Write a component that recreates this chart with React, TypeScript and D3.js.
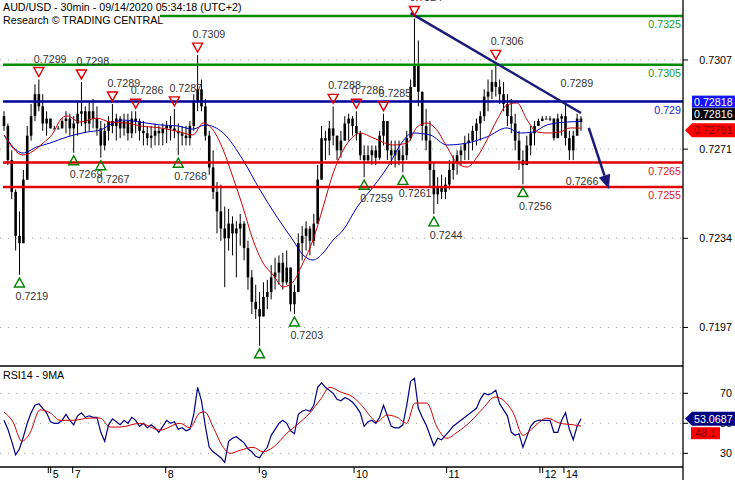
import React from 'react';
import * as d3 from 'd3';

// ---------- data (prices in pips: 7285 = 0.7285) ----------
const firstOpen = 7284;
const highs = [
  7286, 7281, 7270, 7254, 7245, 7262, 7280, 7289, 7297, 7299,
  7293, 7286, 7280, 7280, 7280, 7283, 7286, 7285, 7284, 7290,
  7298, 7288, 7290, 7291, 7288, 7282, 7281, 7284, 7289, 7285,
  7284, 7285, 7285, 7286, 7286, 7283, 7282, 7280, 7280, 7281,
  7280, 7281, 7282, 7284, 7287, 7281, 7280, 7280, 7282, 7293,
  7309, 7299, 7291, 7278, 7270, 7257, 7256, 7247, 7246, 7243,
  7241, 7244, 7241, 7233, 7221, 7215, 7212, 7216, 7217, 7223,
  7226, 7227, 7228, 7229, 7221, 7215, 7236, 7239, 7241, 7239,
  7244, 7264, 7280, 7278, 7282, 7288, 7276, 7278, 7284, 7285,
  7284, 7286, 7278, 7272, 7272, 7272, 7272, 7278, 7285, 7281,
  7274, 7274, 7274, 7272, 7278, 7299, 7324, 7315, 7292, 7287,
  7282, 7265, 7259, 7260, 7259, 7266, 7268, 7270, 7272, 7276,
  7277, 7280, 7283, 7286, 7295, 7299, 7303, 7306, 7299, 7298,
  7293, 7291, 7285, 7278, 7270, 7276, 7280, 7282, 7283, 7284,
  7284, 7284, 7279, 7285, 7285, 7289, 7278, 7278, 7285, 7284,
];
const lows = [
  7278, 7264, 7250, 7229, 7219, 7237, 7260, 7274, 7282, 7286,
  7278, 7276, 7279, 7279, 7279, 7281, 7277, 7276, 7269, 7276,
  7280, 7277, 7278, 7279, 7276, 7267, 7270, 7274, 7277, 7274,
  7275, 7276, 7274, 7275, 7277, 7274, 7272, 7272, 7271, 7272,
  7272, 7272, 7273, 7274, 7275, 7268, 7272, 7272, 7272, 7278,
  7286, 7286, 7274, 7260, 7250, 7236, 7233, 7214, 7229, 7227,
  7218, 7231, 7225, 7213, 7203, 7201, 7190, 7202, 7205, 7209,
  7213, 7215, 7213, 7215, 7204, 7203, 7220, 7225, 7229, 7227,
  7231, 7241, 7260, 7266, 7268, 7272, 7266, 7267, 7274, 7274,
  7276, 7274, 7266, 7259, 7265, 7264, 7264, 7266, 7272, 7266,
  7264, 7263, 7264, 7261, 7266, 7274, 7296, 7288, 7274, 7270,
  7255, 7244, 7248, 7250, 7250, 7254, 7258, 7260, 7264, 7266,
  7266, 7270, 7272, 7274, 7282, 7286, 7291, 7292, 7289, 7286,
  7280, 7277, 7270, 7262, 7256, 7266, 7268, 7272, 7280, 7283,
  7283, 7282, 7274, 7275, 7276, 7272, 7266, 7266, 7277, 7278,
];
const closes = [
  7280, 7266, 7253, 7235, 7232, 7258, 7276, 7284, 7293, 7288,
  7281, 7283, 7279, 7279, 7279, 7282, 7283, 7279, 7281, 7285,
  7286, 7281, 7286, 7283, 7279, 7272, 7278, 7282, 7280, 7283,
  7279, 7282, 7277, 7283, 7282, 7278, 7277, 7275, 7276, 7278,
  7277, 7279, 7280, 7279, 7278, 7277, 7276, 7275, 7280, 7290,
  7295, 7288, 7276, 7263, 7253, 7245, 7238, 7234, 7240, 7236,
  7238, 7240, 7230, 7218, 7208, 7205, 7202, 7210, 7212, 7218,
  7220, 7224, 7216, 7222, 7207, 7212, 7232, 7235, 7238, 7233,
  7240, 7258, 7275, 7274, 7279, 7276, 7270, 7274, 7281, 7283,
  7280, 7277, 7268, 7266, 7268, 7270, 7267, 7276, 7282, 7270,
  7268, 7270, 7266, 7268, 7275, 7296, 7305, 7294, 7280, 7274,
  7262, 7252, 7255, 7253, 7256, 7262, 7265, 7268, 7270, 7273,
  7274, 7278, 7281, 7284, 7292, 7294, 7298, 7296, 7293, 7289,
  7284, 7281, 7274, 7266, 7264, 7272, 7277, 7280, 7282, 7283,
  7283, 7283, 7275, 7283, 7284, 7275, 7270, 7276, 7283, 7281.6,
];

// moving averages on price: [bar index, pips]
const maRed: [number, number][] = [
  [0, 7276.3], [4.9, 7268.1], [10.1, 7273.0], [12.7, 7277.1], [14.5, 7282.4], [16.3, 7284.1],
  [19.6, 7281.6], [24, 7283.2], [27.4, 7281.6], [31.8, 7281.2], [35.1, 7280.0], [40.3, 7279.2],
  [45.5, 7277.5], [48.8, 7276.3], [51.4, 7281.2], [54, 7278.3], [56.6, 7270.2], [59.1, 7259.1],
  [61.7, 7246.8], [64.3, 7233.3], [66.9, 7223.9], [69.5, 7219.0], [72.1, 7214.1], [74.6, 7216.1],
  [77.2, 7223.9], [79.8, 7233.3], [82.4, 7246.8], [85, 7260.7], [87.6, 7270.2], [90.1, 7275.5],
  [92, 7277.1], [95.3, 7275.1], [100.5, 7272.2], [104.1, 7273.0], [106.7, 7279.6], [109.2, 7281.2],
  [111.3, 7279.2], [114.4, 7271.4], [117, 7264.8], [119.6, 7263.2], [122.2, 7267.3], [124.7, 7274.2],
  [127.3, 7282.4], [129.9, 7288.6], [132.5, 7289.4], [135.1, 7282.4], [137.7, 7277.5], [140.2, 7277.1],
  [143.6, 7277.5], [146.2, 7279.2], [149, 7279.1],
];
const maBlue: [number, number][] = [
  [0, 7276.3], [4.9, 7268.9], [8.5, 7271.4], [11.9, 7273.0], [16.3, 7275.5], [21.4, 7277.5],
  [24.8, 7278.3], [28.2, 7281.2], [30.7, 7282.4], [35.1, 7281.6], [40.3, 7280.4], [44.7, 7280.0],
  [48.8, 7278.7], [51.9, 7280.4], [56.6, 7277.1], [61.7, 7266.1], [66.1, 7253.8], [70.5, 7242.7],
  [74.6, 7233.3], [77.2, 7227.2], [79.8, 7225.1], [82.4, 7228.0], [85, 7233.3], [87.6, 7237.4],
  [91.2, 7246.8], [95.3, 7255.0], [99.7, 7264.8], [102.3, 7272.2], [105.6, 7277.1], [110, 7276.3],
  [114.4, 7272.2], [119.6, 7273.0], [124.7, 7275.5], [129.9, 7279.2], [133.3, 7277.1], [136.6, 7277.5],
  [140.2, 7280.4], [145.4, 7281.6], [149, 7281.8],
];

// RSI(14), one value per bar
const rsi14 = [
  52, 46, 38, 29, 33, 41, 50, 57, 62, 63,
  60, 57, 51, 50, 50, 52, 56, 52, 49, 55,
  57, 54, 55, 54, 54, 44, 38, 49, 53, 51,
  49, 52, 50, 54, 52, 48, 50, 47, 49, 47,
  44, 48, 52, 50, 51, 46, 47, 45, 46, 56,
  74, 65, 48, 34, 31, 29, 27, 24, 38, 40,
  41, 39, 37, 33, 31, 28, 27, 31, 34, 42,
  46, 50, 52, 50, 45, 43, 56, 58, 59, 58,
  62, 74, 77, 74, 72, 70, 66, 65, 67, 66,
  64, 61, 57, 48, 51, 52, 50, 54, 62, 55,
  48, 47, 47, 49, 62, 78, 80, 60, 54, 49,
  42, 35, 40, 39, 42, 45, 48, 50, 52, 54,
  56, 58, 60, 66, 70, 69, 70, 72, 63, 59,
  55, 44, 42, 43, 34, 41, 48, 51, 52, 52,
  52, 52, 44, 44, 52, 57, 46, 39, 48, 53.0687,
];
// 9-period MA of RSI: [bar index, value]
const rsiMa: [number, number][] = [
  [0, 57.5], [2.3, 51], [4.6, 38], [6.7, 43.5], [9.3, 59], [11.9, 57], [14.5, 52], [17.8, 52],
  [22.2, 53.5], [24.8, 53.5], [27.4, 47.5], [30, 47.5], [35.1, 50], [40.3, 45.5], [45.5, 50],
  [48, 47], [50.6, 57], [51.9, 57.5], [54, 47.5], [56.6, 34], [58.4, 30], [61, 32], [64.3, 34],
  [66.9, 31], [69.5, 34], [73.1, 43.5], [75.7, 49], [79, 57], [81.6, 65.5], [84.2, 74], [86.8, 71],
  [90.1, 67.5], [92.7, 61], [94.5, 55], [96.3, 51], [98.9, 55.5], [101.5, 54], [104, 50],
  [106.1, 63.5], [109.2, 63.5], [111.8, 47.5], [114.4, 40], [117, 44], [120.4, 51], [123.7, 60],
  [126.8, 67.5], [128.9, 65.5], [131.5, 57], [134, 42], [136.6, 47], [140.2, 53.5], [143.6, 50],
  [147, 49], [149, 48.1],
];

// axis
const dayTicks = [11.44, 12.06, 17.74, 41.76, 65.93, 90.4, 114.3, 138.4, 139.1, 144.6];
const dayLabels = ['', '5', '7', '8', '9', '10', '11', '', '12', '14'];
const priceTicks = [0.7307, 0.72705, 0.7234, 0.71975];
const priceTickLabels = ['0.7307', '0.7271', '0.7234', '0.7197'];
const rsiTicks = [70, 50, 30];
const rsiTickLabels = ['70', '50', '30'];

// key levels
const resistances = [0.7325, 0.7305];
const resistanceLabels = ['0.7325', '0.7305'];
const pivots = [0.729];
const pivotLabels = ['0.729'];
const supports = [0.7265, 0.7255];
const supportLabels = ['0.7265', '0.7255'];

// swing markers: [bar index, price]
const highMarks: [number, number][] = [
  [9, 0.7299], [20, 0.7298], [28, 0.7289], [34, 0.7286], [44, 0.7287], [50, 0.7309],
  [85, 0.7288], [91, 0.7286], [98, 0.7285], [106, 0.7324], [127, 0.7306],
];
const lowMarks: [number, number][] = [
  [4, 0.7219], [18, 0.7269], [25, 0.7267], [45, 0.7268], [66, 0.719], [75, 0.7203],
  [93, 0.7259], [103, 0.7261], [111, 0.7244], [134, 0.7256],
];
const pendingHighs: [number, number][] = [[145, 0.7289]];
const pendingLows: [number, number][] = [[146.1, 0.7266]];

const trendLine: [number, number][] = [[105, 0.73262], [149, 0.72853]];
const forecast: [number, number][] = [[151, 0.72792], [156.2, 0.72542]];

const lastBlue = 0.72818;
const lastClose = 0.72816;
const lastRed = 0.72791;
const lastRsi = 53.0687;
const lastRsiMa = 48.1;

const FONT = "'Liberation Sans', Arial, sans-serif";
const RIGHT = 683;
const MAIN_BOTTOM = 366;

export default function App() {
  const xS = d3.scaleLinear().domain([0, 149]).range([4, 581]);
  const yP = d3.scaleLinear().domain([0.7325, 0.7255]).range([16, 187]);
  const yR = d3.scaleLinear().domain([70, 30]).range([393.3, 453.3]);

  const bars = closes.map((c, i) => ({
    i,
    o: (i === 0 ? firstOpen : closes[i - 1]) / 1e4,
    h: highs[i] / 1e4,
    l: lows[i] / 1e4,
    c: c / 1e4,
  }));

  const maLine = d3.line<[number, number]>()
    .x(d => xS(d[0])).y(d => yP(d[1] / 1e4)).curve(d3.curveMonotoneX);
  const rsiLine = d3.line<number>().x((_, i) => xS(i)).y(d => yR(d));
  const rsiMaLine = d3.line<[number, number]>()
    .x(d => xS(d[0])).y(d => yR(d[1])).curve(d3.curveMonotoneX);

  const labelColor = '#333';
  const fs = 10.7;

  const levelLine = (v: number, label: string, stroke: string, textColor: string, key: string) => (
    <g key={key}>
      <line x1={3} x2={RIGHT} y1={yP(v)} y2={yP(v)} stroke={stroke} strokeWidth={2.5} />
      <text x={RIGHT - 2} y={yP(v) + 12} textAnchor="end" fill={textColor}>{label}</text>
    </g>
  );

  // forecast arrow geometry
  const ax0 = xS(forecast[0][0]), ay0 = yP(forecast[0][1]);
  const ax1 = xS(forecast[1][0]), ay1 = yP(forecast[1][1]);
  const ang = Math.atan2(ay1 - ay0, ax1 - ax0);
  const headLen = 14, headW = 6;
  const bx = ax1 - headLen * Math.cos(ang), by = ay1 - headLen * Math.sin(ang);
  const head = [
    [ax1, ay1],
    [bx + headW * Math.sin(ang), by - headW * Math.cos(ang)],
    [bx - headW * Math.sin(ang), by + headW * Math.cos(ang)],
  ];

  // price tags stacking
  const redC = yP(lastRed) + 2;
  const blackC = redC - 16;
  const blueC = blackC - 12.5;
  const rsiC = yR(lastRsi);
  const rsiMaTop = rsiC + 8.5;

  const arrowTag = (cy: number) =>
    `M685,${cy} L692,${cy - 7} L735,${cy - 7} L735,${cy + 7} L692,${cy + 7} Z`;

  return (
    <div style={{ position: 'absolute', left: 0, top: 0 }}>
      <svg width={735} height={480} style={{ display: 'block' }} fontFamily={FONT} fontSize={fs}>
        <defs>
          <clipPath id="mainClip"><rect x={0} y={0} width={RIGHT} height={MAIN_BOTTOM} /></clipPath>
          <clipPath id="rsiClip"><rect x={0} y={366} width={RIGHT} height={101} /></clipPath>
        </defs>
        <rect x={0} y={0} width={735} height={480} fill="#fff" />

        {/* main panel */}
        <g clipPath="url(#mainClip)">
          {priceTicks.map((t, k) => (
            <line key={k} x1={0} x2={RIGHT} y1={yP(t)} y2={yP(t)} stroke="#a0a0a0" strokeWidth={1} strokeDasharray="1,7" />
          ))}

          {bars.map(b => {
            const x = xS(b.i);
            const top = yP(Math.max(b.o, b.c));
            const bot = yP(Math.min(b.o, b.c));
            return (
              <g key={b.i}>
                <line x1={x} x2={x} y1={yP(Math.max(b.h, b.o, b.c))} y2={yP(Math.min(b.l, b.o, b.c))} stroke="#000" strokeWidth={1} />
                <rect x={x - 1.3} y={top} width={2.6} height={Math.max(1, bot - top)} fill="#000" />
              </g>
            );
          })}

          <path d={maLine(maBlue) || ''} fill="none" stroke="#0000c0" strokeWidth={1} />
          <path d={maLine(maRed) || ''} fill="none" stroke="#cc0000" strokeWidth={1} />

          {resistances.map((v, k) => levelLine(v, resistanceLabels[k], '#008a00', '#1a9a1a', 'r' + k))}
          {pivots.map((v, k) => levelLine(v, pivotLabels[k], '#000099', '#2222cc', 'p' + k))}
          {supports.map((v, k) => levelLine(v, supportLabels[k], '#e00000', '#e02020', 's' + k))}

          <line x1={xS(trendLine[0][0])} y1={yP(trendLine[0][1])} x2={xS(trendLine[1][0])} y2={yP(trendLine[1][1])}
            stroke="#1a1a7a" strokeWidth={2.5} />
          <line x1={ax0} y1={ay0} x2={bx} y2={by} stroke="#1a1a7a" strokeWidth={2.5} />
          <polygon points={head.map(p => p.join(',')).join(' ')} fill="#1a1a7a" />

          {highMarks.map(([i, p], k) => {
            const x = xS(i);
            const t = yP(p) - 12;
            return (
              <g key={'h' + k}>
                <path d={`M${x - 5},${t} L${x + 5},${t} L${x},${t + 9} Z`} fill="none" stroke="#e00000" strokeWidth={1.4} />
                <text x={x - 5} y={t - 5} fill={labelColor}>{p.toFixed(4)}</text>
              </g>
            );
          })}
          {lowMarks.map(([i, p], k) => {
            const x = xS(i);
            const t = yP(p) + 3;
            const ly = t + 22;
            return (
              <g key={'l' + k}>
                <path d={`M${x - 5},${t + 9} L${x + 5},${t + 9} L${x},${t} Z`} fill="none" stroke="#008000" strokeWidth={1.4} />
                {ly < MAIN_BOTTOM && <text x={x - 4} y={ly} fill={labelColor}>{p.toFixed(4)}</text>}
              </g>
            );
          })}
          {pendingHighs.map(([i, p], k) => (
            <text key={'ph' + k} x={xS(i) - 5} y={yP(p) - 17} fill={labelColor}>{p.toFixed(4)}</text>
          ))}
          {pendingLows.map(([i, p], k) => (
            <text key={'pl' + k} x={xS(i) - 4} y={yP(p) + 25} fill={labelColor}>{p.toFixed(4)}</text>
          ))}

          <rect x={0} y={0} width={160} height={27} fill="#fff" />
          <text x={3} y={11} fill="#000">AUD/USD - 30min - 09/14/2020 05:34:18 (UTC+2)</text>
          <text x={3} y={24} fill="#000">Research © TRADING CENTRAL</text>
        </g>

        {/* RSI panel */}
        <g clipPath="url(#rsiClip)">
          {rsiTicks.map((t, k) => (
            <line key={k} x1={0} x2={RIGHT} y1={yR(t)} y2={yR(t)} stroke="#a0a0a0" strokeWidth={1} strokeDasharray="1,7" />
          ))}
          <path d={rsiLine(rsi14) || ''} fill="none" stroke="#000080" strokeWidth={1.2} />
          <path d={rsiMaLine(rsiMa) || ''} fill="none" stroke="#cc0000" strokeWidth={1} />
          <text x={3} y={379} fill="#000">RSI14 - 9MA</text>
        </g>

        {/* frames */}
        <line x1={0} x2={RIGHT} y1={366} y2={366} stroke="#000" strokeWidth={1.3} />
        <line x1={0} x2={RIGHT} y1={467} y2={467} stroke="#000" strokeWidth={1.3} />
        <line x1={RIGHT} x2={RIGHT} y1={0} y2={480} stroke="#000" strokeWidth={1.3} />

        {/* x axis */}
        {dayTicks.map((t, k) => (
          <g key={'d' + k}>
            <line x1={xS(t)} x2={xS(t)} y1={467} y2={473} stroke="#000" strokeWidth={1} />
            {dayLabels[k] && <text x={xS(t) + 2} y={478} fill="#000">{dayLabels[k]}</text>}
          </g>
        ))}

        {/* price axis */}
        {priceTicks.map((t, k) => (
          <g key={'pt' + k}>
            <line x1={RIGHT} x2={RIGHT + 5} y1={yP(t)} y2={yP(t)} stroke="#000" strokeWidth={1} />
            <text x={732} y={yP(t) + 4} textAnchor="end" fill="#000">{priceTickLabels[k]}</text>
          </g>
        ))}
        {rsiTicks.map((t, k) => (
          <g key={'rt' + k}>
            <line x1={RIGHT} x2={RIGHT + 5} y1={yR(t)} y2={yR(t)} stroke="#000" strokeWidth={1} />
            <text x={732} y={yR(t) + 4} textAnchor="end" fill="#000">{rsiTickLabels[k]}</text>
          </g>
        ))}

        {/* value tags */}
        <rect x={692} y={blueC - 6} width={43} height={12} fill="#1414ff" />
        <text x={694} y={blueC + 4} fill="#fff">{lastBlue.toFixed(5)}</text>
        <rect x={692} y={blackC - 6} width={43} height={12} fill="#000" />
        <text x={694} y={blackC + 4} fill="#fff">{lastClose.toFixed(5)}</text>
        <path d={arrowTag(redC)} fill="#ff0000" />
        <text x={694} y={redC + 4} fill="#7a0000">{lastRed.toFixed(5)}</text>

        <path d={arrowTag(rsiC)} fill="#000080" />
        <text x={694} y={rsiC + 4} fill="#fff">{lastRsi.toFixed(4)}</text>
        <rect x={691} y={rsiMaTop} width={29} height={12} fill="#ff0000" />
        <text x={695} y={rsiMaTop + 10} fill="#7a0000">{lastRsiMa.toFixed(1)}</text>
      </svg>
    </div>
  );
}
